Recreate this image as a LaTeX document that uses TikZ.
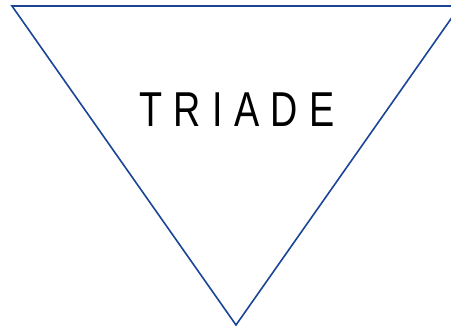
\documentclass[tikz,border=0pt]{standalone}
\usepackage{fontspec}
\setmainfont{Liberation Sans}
\newfontfamily\triadefont[FakeStretch=0.77,LetterSpace=23]{Liberation Sans}
\usetikzlibrary{positioning}
\definecolor{Edge}{HTML}{1A4597}
\tikzset{
    edgeline/.style={draw=Edge, line width=1.6pt, line join=miter},
    titletext/.style={font=\triadefont\fontsize{49}{49}\selectfont, text=black, inner sep=0pt},
}

\begin{document}
\begin{tikzpicture}[x=1pt, y=-1pt]
        \clip (0,0) rectangle (451,328);
        \useasboundingbox (0,0) rectangle (451,328);
        \coordinate (topleft) at (12,6);
        \coordinate (topright) at (460,6);
        \coordinate (bottom) at (236,325);

        \draw[edgeline] (topleft) -- (topright) -- (bottom) -- cycle;
        \node[titletext] (title) at (237,110) {TRIADE};
    \end{tikzpicture}
\end{document}
